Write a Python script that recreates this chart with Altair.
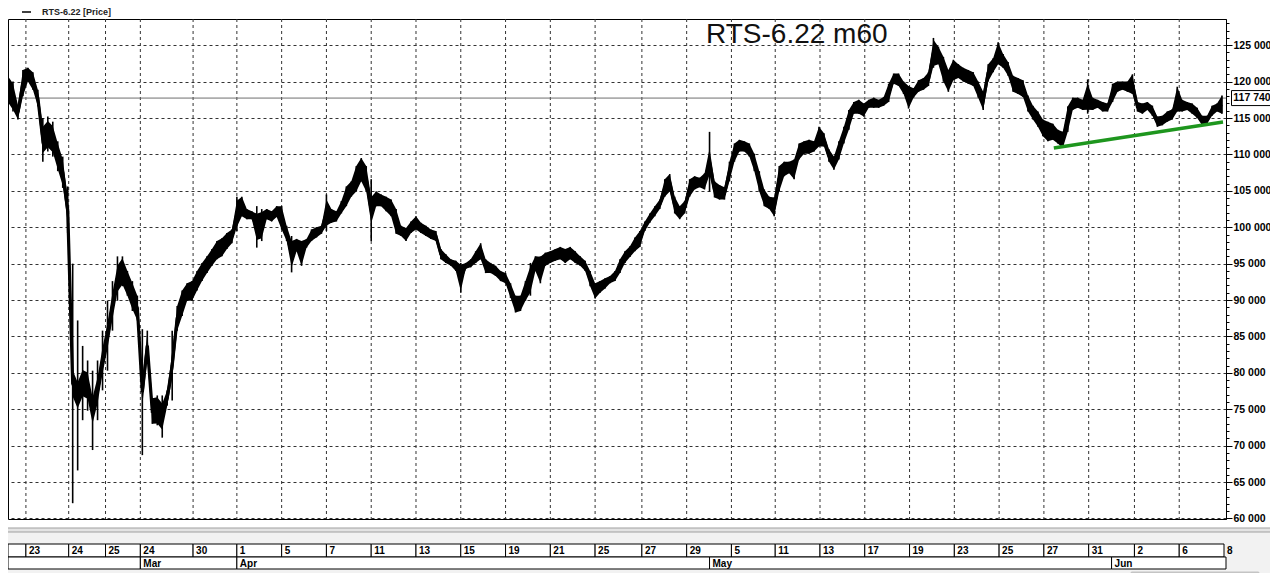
import altair as alt
import pandas as pd

# ---- price bars (sampled hourly ranges, thousands of points) ----
hi_k = [121.6, 120.0, 116.8, 121.6, 121.9, 121.3, 118.9, 115.0, 115.2, 114.5,
        111.8, 109.7, 105.6, 95.0, 87.2, 83.7, 81.7, 80.3, 81.7, 85.8,
        89.9, 92.6, 96.0, 96.0, 94.0, 92.6, 90.6, 86.0, 85.8, 76.5,
        76.9, 76.9, 77.6, 85.8, 89.2, 91.3, 92.3, 92.6, 94.0, 95.1,
        96.0, 97.0, 98.1, 98.5, 99.2, 99.7, 104.2, 104.2, 102.5, 102.2,
        102.9, 102.5, 102.5, 102.2, 102.9, 102.9, 100.2, 98.8, 98.4, 98.1,
        98.4, 99.7, 100.0, 100.2, 104.5, 102.5, 102.2, 103.6, 105.6, 106.3,
        108.4, 109.5, 108.4, 106.6, 104.9, 104.5, 104.2, 103.8, 102.5, 100.2,
        99.9, 100.8, 101.5, 100.6, 100.2, 99.7, 99.5, 97.0, 96.3, 95.6,
        95.4, 95.1, 95.1, 95.6, 96.7, 97.8, 95.6, 95.1, 94.7, 94.0,
        93.7, 92.3, 90.6, 90.6, 92.6, 95.1, 96.0, 96.0, 96.5, 96.7,
        97.0, 97.3, 97.0, 97.3, 96.7, 96.0, 95.4, 94.0, 92.3, 92.6,
        93.0, 93.3, 94.0, 95.6, 96.7, 97.4, 98.6, 99.5, 100.8, 101.9,
        102.9, 103.8, 106.6, 107.3, 104.2, 102.9, 103.6, 106.6, 107.0, 106.8,
        107.4, 113.1, 106.3, 105.8, 105.5, 109.0, 111.5, 112.0, 111.8, 111.5,
        110.1, 107.7, 105.2, 104.2, 104.1, 108.4, 109.0, 109.0, 109.3, 111.5,
        111.8, 112.0, 111.8, 113.8, 112.9, 110.7, 109.7, 111.8, 113.8, 116.1,
        117.2, 117.5, 117.0, 117.5, 117.8, 117.5, 117.9, 119.7, 121.1, 121.1,
        120.0, 119.4, 119.1, 120.2, 120.5, 121.3, 126.0, 124.8, 123.4, 121.6,
        123.0, 122.4, 121.9, 121.6, 121.3, 120.0, 118.6, 122.4, 123.2, 125.4,
        123.8, 122.7, 120.8, 120.5, 120.2, 118.1, 116.7, 115.9, 114.8, 114.5,
        114.2, 113.4, 113.1, 116.6, 117.8, 117.8, 117.5, 120.3, 117.8, 117.5,
        117.2, 117.0, 119.7, 120.0, 120.0, 120.0, 121.0, 117.2, 117.0, 117.2,
        116.7, 115.2, 115.3, 115.9, 116.2, 119.3, 117.5, 117.2, 117.0, 116.4,
        115.3, 115.3, 116.7, 117.0, 118.1]
lo_k = [116.3, 115.9, 114.8, 118.0, 120.0, 118.9, 116.6, 109.0, 110.4, 109.7,
        107.7, 105.4, 99.2, 62.1, 66.6, 73.5, 74.8, 69.4, 73.5, 77.6,
        80.3, 85.8, 89.9, 91.9, 90.6, 88.5, 87.2, 68.7, 81.7, 73.0,
        72.8, 71.1, 75.5, 76.2, 85.8, 87.8, 89.9, 89.9, 91.3, 92.6,
        93.7, 94.7, 95.6, 96.0, 97.0, 97.8, 99.5, 101.5, 101.1, 101.1,
        97.2, 98.1, 101.1, 100.8, 101.4, 99.7, 98.1, 93.8, 96.7, 94.7,
        97.2, 98.1, 98.6, 99.1, 99.5, 100.6, 100.8, 101.9, 102.9, 104.2,
        104.9, 106.3, 104.9, 98.1, 102.9, 102.9, 102.2, 101.5, 99.1, 98.8,
        98.1, 99.2, 99.7, 99.2, 98.8, 98.4, 98.1, 95.6, 95.1, 94.7,
        94.0, 91.0, 94.3, 94.5, 95.1, 95.6, 93.7, 93.7, 93.3, 92.6,
        92.3, 90.3, 88.3, 88.5, 89.9, 90.6, 94.0, 92.3, 94.7, 95.1,
        95.4, 95.6, 95.1, 95.6, 95.1, 94.7, 94.0, 91.9, 90.2, 91.0,
        91.6, 92.3, 92.6, 93.7, 95.1, 95.9, 96.7, 97.3, 99.5, 100.6,
        101.5, 102.5, 104.2, 104.9, 101.9, 101.1, 101.9, 104.2, 105.2, 105.5,
        105.2, 104.9, 104.1, 103.8, 103.8, 106.3, 109.0, 110.4, 110.4, 109.7,
        107.7, 104.9, 102.9, 102.5, 101.5, 104.9, 107.0, 107.4, 106.6, 109.3,
        110.1, 110.1, 110.4, 111.1, 111.1, 109.0, 107.9, 109.3, 111.5, 113.4,
        115.6, 115.6, 115.2, 116.4, 116.4, 116.4, 116.7, 117.2, 119.7, 119.4,
        118.3, 116.3, 117.8, 118.6, 118.9, 119.4, 121.9, 122.4, 120.0, 118.6,
        120.2, 120.5, 120.0, 119.7, 119.4, 117.8, 116.1, 120.0, 121.3, 122.4,
        121.9, 120.8, 118.6, 118.3, 117.9, 115.9, 114.8, 113.8, 112.5, 111.8,
        112.0, 111.5, 110.9, 113.1, 116.1, 116.4, 116.1, 115.6, 116.1, 116.4,
        115.9, 115.9, 117.2, 118.6, 118.9, 118.6, 118.3, 115.9, 115.6, 116.1,
        115.3, 113.8, 114.0, 114.5, 114.8, 115.9, 115.9, 116.1, 115.6, 115.0,
        114.0, 114.2, 115.3, 115.9, 115.6]
last_price = 117740

# ---- green support line (bar index, price) ----
trend_idx = [210.2, 244.2]
trend_val = [110880, 114440]

# ---- date strip ----
date_labels = ["23", "24", "25", "24", "30", "1", "5", "7", "11", "13", "15", "19", "21", "25",
               "27", "29", "5", "11", "13", "17", "19", "23", "25", "27", "31", "2", "6", "8"]
date_pos = [3.6, 12.2, 19.6, 26.6, 37.2, 46, 55, 64, 73, 82, 91, 100, 109, 118,
            127.4, 136.4, 145.4, 154.2, 163.2, 172.2, 181.2, 190.2, 199.2, 208.2, 217.2, 226.4, 235.4, 244.4]
month_labels = ["", "Mar", "Apr", "May", "Jun"]
month_pos = [0, 26.6, 46, 141, 221.8]
x_end = 244.8

W, H = 1218, 500
FONT = "Liberation Sans"

bars = pd.DataFrame({
    "i": list(range(len(hi_k))),
    "hi": [v * 1000 for v in hi_k],
    "lo": [v * 1000 for v in lo_k],
})
bars["mid"] = (bars["hi"] + bars["lo"]) / 2
# a narrower core band around the mid for the dense-bar look
bars["c_hi"] = bars["mid"] + (bars["hi"] - bars["mid"]).clip(upper=1800)
bars["c_lo"] = bars["mid"] - (bars["mid"] - bars["lo"]).clip(upper=1800)

xs = alt.Scale(domain=[0, x_end], nice=False, zero=False)
ys = alt.Scale(domain=[59930, 128600], nice=False, zero=False)

five = "datum.value % 5000 === 0"
yaxis = alt.Axis(
    orient="right",
    values=list(range(60000, 129000, 1000)),
    labelExpr=f"{five} ? replace(format(datum.value, ','), ',', ' ') : ''",
    labelOverlap=False, labelFlush=False,
    labelFont=FONT, labelFontSize=10.5, labelFontWeight="bold", labelColor="black",
    labelPadding=1,
    tickSize={"condition": {"test": five, "value": 6}, "value": 3},
    tickColor="black", domainColor="black",
    grid=True,
    gridOpacity={"condition": {"test": five, "value": 1}, "value": 0},
    gridDash=[3, 3], gridColor="#333333", gridWidth=1,
    title=None,
)

# vertical grid
vgrid_df = pd.DataFrame({"p": date_pos[:-1]})
vgrid = alt.Chart(vgrid_df).mark_rule(color="#333333", strokeDash=[3, 3], strokeWidth=1).encode(
    x=alt.X("p:Q", scale=xs, axis=None), y=alt.value(0), y2=alt.value(H))

# last price line
lp_df = pd.DataFrame({"v": [last_price], "t": ["117 740"]})
lp_line = alt.Chart(lp_df).mark_rule(color="#6e6e6e", strokeWidth=1).encode(
    y=alt.Y("v:Q", scale=ys, axis=yaxis))

band = alt.Chart(bars).mark_area(color="black", opacity=1).encode(
    x=alt.X("i:Q", scale=xs, axis=None),
    y=alt.Y("c_lo:Q", scale=ys, axis=yaxis), y2="c_hi:Q")
rules = alt.Chart(bars).mark_rule(color="black", strokeWidth=1.6).encode(
    x=alt.X("i:Q", scale=xs, axis=None),
    y=alt.Y("lo:Q", scale=ys, axis=yaxis), y2="hi:Q")
line = alt.Chart(bars).mark_line(color="black", strokeWidth=3.2).encode(
    x=alt.X("i:Q", scale=xs, axis=None), y=alt.Y("mid:Q", scale=ys, axis=yaxis))

trend_df = pd.DataFrame({"i": trend_idx, "v": trend_val})
trend = alt.Chart(trend_df).mark_line(color="#1e961e", strokeWidth=3.5).encode(
    x=alt.X("i:Q", scale=xs, axis=None), y=alt.Y("v:Q", scale=ys, axis=yaxis))

title_df = pd.DataFrame({"t": ["RTS-6.22 m60"]})
title = alt.Chart(title_df).mark_text(font=FONT, fontSize=28, align="left", baseline="alphabetic",
                                      color="#111111").encode(
    x=alt.value(698), y=alt.value(24), text="t:N")

leg_df = pd.DataFrame({"t": ["RTS-6.22 [Price]"]})
leg_line = alt.Chart(leg_df).mark_rule(color="black", strokeWidth=1.5).encode(
    x=alt.value(14), x2=alt.value(23), y=alt.value(-7))
leg_text = alt.Chart(leg_df).mark_text(font=FONT, fontSize=9, fontWeight="bold", align="left",
                                       baseline="middle", color="#222222").encode(
    x=alt.value(34), y=alt.value(-7), text="t:N")

lp_box = alt.Chart(lp_df).mark_tick(orient="vertical", size=15, thickness=41, fill="white",
                                    stroke="black", strokeWidth=1, opacity=1).encode(
    x=alt.value(W + 26), y=alt.Y("v:Q", scale=ys, axis=yaxis))
lp_text = alt.Chart(lp_df).mark_text(font=FONT, fontSize=10.5, fontWeight="bold", align="center",
                                     baseline="middle", color="black").encode(
    x=alt.value(W + 26), y=alt.Y("v:Q", scale=ys, axis=yaxis), text="t:N")

# bottom strip
R1, R2, R3 = 525, 538, 550
bg_df = pd.DataFrame({"a": [0]})
strip_bg = alt.Chart(bg_df).mark_rect(color="#f2f2f2").encode(
    x=alt.value(-8), x2=alt.value(W + 44), y=alt.value(513), y2=alt.value(H + 54))
sep_mid = alt.Chart(bg_df).mark_rect(color="#e4e4e4").encode(
    x=alt.value(-8), x2=alt.value(W + 44), y=alt.value(509), y2=alt.value(513))
sep1 = alt.Chart(bg_df).mark_rule(color="#a0a0a0", strokeWidth=1.2).encode(
    x=alt.value(-8), x2=alt.value(W + 44), y=alt.value(509))
sep2 = alt.Chart(bg_df).mark_rule(color="#a0a0a0", strokeWidth=1.2).encode(
    x=alt.value(-8), x2=alt.value(W + 44), y=alt.value(513))
scroll = alt.Chart(bg_df).mark_rule(color="#c4c4c4", strokeWidth=3, strokeCap="round").encode(
    x=alt.value(1124), x2=alt.value(1250), y=alt.value(554))

day_df = pd.DataFrame({"s": [0] + date_pos[:-1], "e": date_pos, "t": [""] + date_labels[:-1]})
day_cells = alt.Chart(day_df).mark_rect(fill="white", stroke="black", strokeWidth=1).encode(
    x=alt.X("s:Q", scale=xs, axis=None), x2="e:Q", y=alt.value(R1), y2=alt.value(R2))
day_text = alt.Chart(day_df).mark_text(font=FONT, fontSize=10, fontWeight="bold", align="left",
                                       baseline="middle", dx=3, color="black").encode(
    x=alt.X("s:Q", scale=xs, axis=None), y=alt.value((R1 + R2) / 2 + 0.5), text="t:N")
last_df = pd.DataFrame({"s": [date_pos[-1]], "t": [date_labels[-1]]})
last_text = alt.Chart(last_df).mark_text(font=FONT, fontSize=10, fontWeight="bold", align="left",
                                         baseline="middle", dx=3, color="black").encode(
    x=alt.X("s:Q", scale=xs, axis=None), y=alt.value((R1 + R2) / 2 + 0.5), text="t:N")

mon_df = pd.DataFrame({"s": month_pos, "e": month_pos[1:] + [x_end], "t": month_labels})
mon_cells = alt.Chart(mon_df).mark_rect(fill="white", stroke="black", strokeWidth=1).encode(
    x=alt.X("s:Q", scale=xs, axis=None), x2="e:Q", y=alt.value(R2), y2=alt.value(R3))
mon_text = alt.Chart(mon_df).mark_text(font=FONT, fontSize=10, fontWeight="bold", align="left",
                                       baseline="middle", dx=3, color="black").encode(
    x=alt.X("s:Q", scale=xs, axis=None), y=alt.value((R2 + R3) / 2 + 0.5), text="t:N")

chart = alt.layer(
    strip_bg, sep_mid, sep1, sep2, scroll, day_cells, day_text, last_text, mon_cells, mon_text,
    vgrid, lp_line, band, rules, line, trend, title, leg_line, leg_text, lp_box, lp_text,
).properties(
    width=W, height=H,
    autosize=alt.AutoSizeParams(type="none"),
    padding={"left": 0, "top": 11, "right": 44, "bottom": 54},
    background="white",
).configure_view(stroke="black", strokeWidth=1)

chart.save("out.html", embed_options={"renderer": "svg", "actions": False})
